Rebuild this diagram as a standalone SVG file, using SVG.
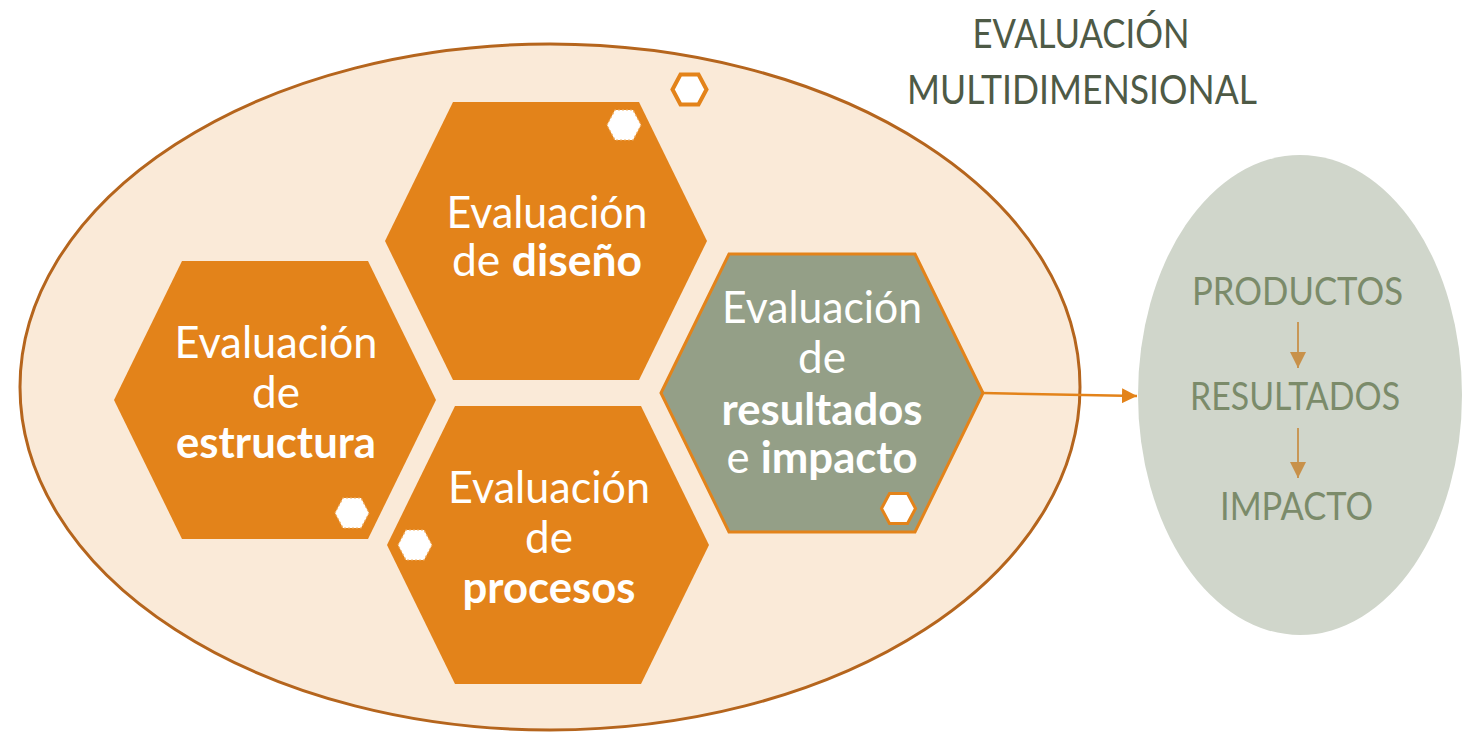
<svg xmlns="http://www.w3.org/2000/svg" width="1466" height="734" viewBox="0 0 1466 734">
<defs>
<style>
.hexO{fill:#E3831A;}
.hexG{fill:#949F87;stroke:#E3831A;stroke-width:3;}
.sw{fill:#FFFFFF;stroke:#F2B36B;stroke-width:1.2;stroke-dasharray:2 2;}
.so{fill:#FFFFFF;stroke:#E3831A;stroke-width:4;}
.t{font-family:Lato,"Open Sans","Liberation Sans",sans-serif;font-size:44px;fill:#FFFFFF;text-anchor:middle;}
.b{font-weight:bold;}
.title{font-family:Lato,"Open Sans","Liberation Sans",sans-serif;font-size:40px;fill:#4E5A46;text-anchor:middle;}
.rt{font-family:Lato,"Open Sans","Liberation Sans",sans-serif;font-size:38px;fill:#7B8B6A;text-anchor:middle;}
</style>
<path id="bigHex" d="M-161,0 L-93,-139 L93,-139 L161,0 L93,139 L-93,139 Z"/>
<path id="smallHex" d="M-17,0 L-9,-15 L9,-15 L17,0 L9,15 L-9,15 Z"/>
<marker id="arrO" viewBox="0 0 10 10" refX="10" refY="5" markerWidth="6" markerHeight="6" markerUnits="strokeWidth" orient="auto">
<path d="M0,0 L10,5 L0,10 Z" fill="#E3831A"/>
</marker>
<marker id="arrT" viewBox="0 0 10 10" refX="10" refY="5" markerWidth="9" markerHeight="9" markerUnits="strokeWidth" orient="auto">
<path d="M0,0 L10,5 L0,10 Z" fill="#C8914A"/>
</marker>
</defs>
<rect width="1466" height="734" fill="#FFFFFF"/>

<g id="evaluacion-multidimensional">
<ellipse cx="550" cy="387" rx="530" ry="343" fill="#FAEAD8" stroke="#B5651D" stroke-width="3"/>
</g>

<g id="title">
<text class="title" x="1081" y="48" textLength="217" lengthAdjust="spacingAndGlyphs">EVALUACIÓN</text>
<text class="title" x="1082" y="104" textLength="350" lengthAdjust="spacingAndGlyphs">MULTIDIMENSIONAL</text>
</g>

<g id="deco-top">
<use href="#smallHex" class="so" transform="translate(689.5,89.5)"/>
</g>

<g id="diseno">
<use href="#bigHex" class="hexO" transform="translate(546,241)"/>
<use href="#smallHex" class="sw" transform="translate(624,125)"/>
<text class="t" x="547" y="228" textLength="201" lengthAdjust="spacingAndGlyphs">Evaluación</text>
<text class="t" x="547" y="276" textLength="190" lengthAdjust="spacingAndGlyphs">de <tspan class="b">diseño</tspan></text>
</g>

<g id="estructura">
<use href="#bigHex" class="hexO" transform="translate(275,400)"/>
<use href="#smallHex" class="sw" transform="translate(352,513)"/>
<text class="t" x="276" y="358" textLength="203" lengthAdjust="spacingAndGlyphs">Evaluación</text>
<text class="t" x="276" y="408">de</text>
<text class="t b" x="276" y="458" textLength="200" lengthAdjust="spacingAndGlyphs">estructura</text>
</g>

<g id="procesos">
<use href="#bigHex" class="hexO" transform="translate(548,545)"/>
<use href="#smallHex" class="sw" transform="translate(415,545)"/>
<text class="t" x="549" y="503" textLength="202" lengthAdjust="spacingAndGlyphs">Evaluación</text>
<text class="t" x="549" y="553">de</text>
<text class="t b" x="549" y="603" textLength="173" lengthAdjust="spacingAndGlyphs">procesos</text>
</g>

<g id="resultados">
<use href="#bigHex" class="hexG" transform="translate(822,393)"/>
<use href="#smallHex" class="so" style="stroke-width:3" transform="translate(898.5,508.5)"/>
<text class="t" x="822" y="323" textLength="200" lengthAdjust="spacingAndGlyphs">Evaluación</text>
<text class="t" x="822" y="373">de</text>
<text class="t b" x="822" y="425" textLength="201" lengthAdjust="spacingAndGlyphs">resultados</text>
<text class="t" x="822" y="473" textLength="191" lengthAdjust="spacingAndGlyphs">e <tspan class="b">impacto</tspan></text>
</g>

<g id="cadena">
<ellipse cx="1300" cy="395" rx="162" ry="240" fill="#D0D6CB"/>
<text class="rt" x="1297.5" y="305" textLength="211" lengthAdjust="spacingAndGlyphs">PRODUCTOS</text>
<text class="rt" x="1295" y="410" textLength="210" lengthAdjust="spacingAndGlyphs">RESULTADOS</text>
<text class="rt" x="1296.5" y="520" textLength="153" lengthAdjust="spacingAndGlyphs">IMPACTO</text>
</g>

<g id="connectors">
<line x1="983" y1="393" x2="1137" y2="396" stroke="#E3831A" stroke-width="2.5" marker-end="url(#arrO)"/>
<line x1="1298" y1="322" x2="1298" y2="368" stroke="#C8914A" stroke-width="1.8" marker-end="url(#arrT)"/>
<line x1="1298" y1="428" x2="1298" y2="478" stroke="#C8914A" stroke-width="1.8" marker-end="url(#arrT)"/>
</g>
</svg>
